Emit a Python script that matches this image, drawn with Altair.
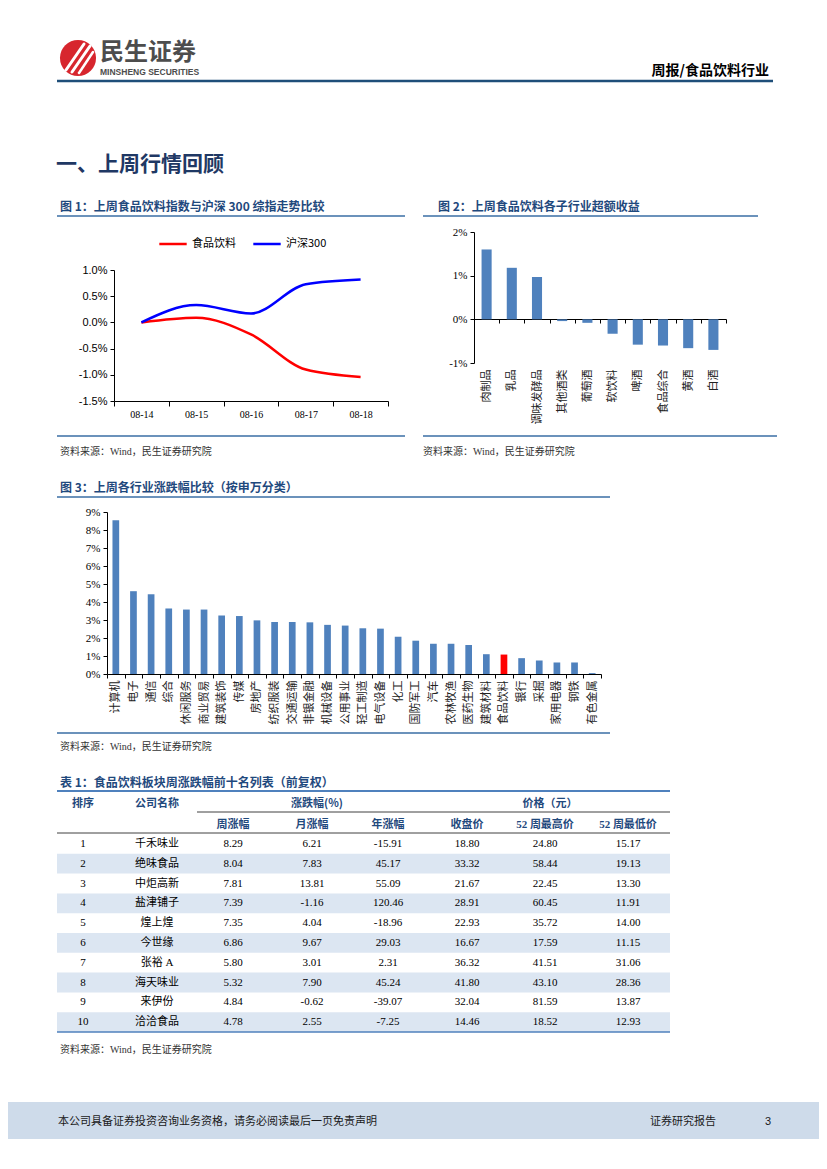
import altair as alt
import pandas as pd

# ---------------- data ----------------
dates = ["08-14", "08-15", "08-16", "08-17", "08-18"]
food_idx = [0.00, 0.09, -0.23, -0.90, -1.04]
hs300_idx = [0.00, 0.33, 0.17, 0.73, 0.82]
series_names = ["食品饮料", "沪深300"]

sub_inds = ["肉制品", "乳品", "调味发酵品", "其他酒类", "葡萄酒", "软饮料", "啤酒", "食品综合", "黄酒", "白酒"]
sub_excess = [1.60, 1.18, 0.97, -0.04, -0.08, -0.33, -0.58, -0.60, -0.66, -0.70]

inds = ["计算机", "电子", "通信", "综合", "休闲服务", "商业贸易", "建筑装饰", "传媒", "房地产", "纺织服装",
        "交通运输", "非银金融", "机械设备", "公用事业", "轻工制造", "电气设备", "化工", "国防军工", "汽车", "农林牧渔",
        "医药生物", "建筑材料", "食品饮料", "银行", "采掘", "家用电器", "钢铁", "有色金属"]
ind_chg = [8.54, 4.60, 4.43, 3.64, 3.58, 3.58, 3.25, 3.22, 2.98, 2.89,
           2.89, 2.87, 2.73, 2.69, 2.54, 2.52, 2.07, 1.85, 1.68, 1.68,
           1.61, 1.10, 1.08, 0.88, 0.75, 0.64, 0.64, 0.05]

ranks = list(range(1, 11))
names = ["千禾味业", "绝味食品", "中炬高新", "盐津铺子", "煌上煌", "今世缘", "张裕 A", "海天味业", "来伊份", "洽洽食品"]
wk_chg = [8.29, 8.04, 7.81, 7.39, 7.35, 6.86, 5.80, 5.32, 4.84, 4.78]
mo_chg = [6.21, 7.83, 13.81, -1.16, 4.04, 9.67, 3.01, 7.90, -0.62, 2.55]
yr_chg = [-15.91, 45.17, 55.09, 120.46, -18.96, 29.03, 2.31, 45.24, -39.07, -7.25]
close_px = [18.80, 33.32, 21.67, 28.91, 22.93, 16.67, 36.32, 41.80, 32.04, 14.46]
hi52 = [24.80, 58.44, 22.45, 60.45, 35.72, 17.59, 41.51, 43.10, 81.59, 18.52]
lo52 = [15.17, 19.13, 13.30, 11.91, 14.00, 11.15, 31.06, 28.36, 13.87, 12.93]

# ---------------- style ----------------
CJK = "Noto Sans CJK SC"
SERIF = "Liberation Serif, Noto Sans CJK SC"
SANS = "Liberation Sans, Noto Sans CJK SC"
NAVY = "#1F3864"
TBLUE = "#1F497D"
LBLUE = "#3A6EA5"
BAR = "#4F81BD"
W, H = 811, 1153
ONE = pd.DataFrame({"k": [0]})


def P(v):  # page pixel -> view pixel
    return v - 8


def txt(s, x, y, size, color="#000000", font=CJK, weight="normal", align="left"):
    return alt.Chart(ONE).mark_text(text=s, fontSize=size, color=color, font=font,
                                    fontWeight=weight, align=align, baseline="alphabetic").encode(
        x=alt.value(P(x)), y=alt.value(P(y)))


def hline(x1, x2, y, color, w=1.0):
    return alt.Chart(ONE).mark_rule(color=color, strokeWidth=w).encode(
        x=alt.value(P(x1)), x2=alt.value(P(x2)), y=alt.value(P(y)))


def seg(x1, y1, x2, y2, color, w):
    return alt.Chart(ONE).mark_rule(color=color, strokeWidth=w, strokeCap="round").encode(
        x=alt.value(P(x1)), x2=alt.value(P(x2)), y=alt.value(P(y1)), y2=alt.value(P(y2)))


def box(x1, y1, x2, y2, color):
    return alt.Chart(ONE).mark_rect(color=color).encode(
        x=alt.value(P(x1)), x2=alt.value(P(x2)), y=alt.value(P(y1)), y2=alt.value(P(y2)))


def pct_label(dec):
    return ("(datum.value < 0 ? '-' : '') + format(abs(datum.value), '.%df') + '%%'" % dec)


layers = []

# ---------------- header ----------------
layers.append(alt.Chart(ONE).mark_point(filled=True, shape="circle", size=1300, color="#D7262E", opacity=1).encode(
    x=alt.value(P(78)), y=alt.value(P(58))))
layers += [seg(66, 70, 84, 44, "white", 3), seg(72, 72, 90, 46, "white", 3), seg(79, 73, 93, 52, "white", 2.5)]
layers.append(txt("民生证券", 100, 60, 24, "#4D4D4D", CJK, "bold"))
layers.append(txt("MINSHENG SECURITIES", 100, 75, 8.5, "#4D4D4D", "Liberation Sans Narrow, Liberation Sans", "bold"))
layers.append(txt("周报/食品饮料行业", 769, 75, 14, "#000000", CJK, "bold", "right"))
layers.append(hline(57, 773, 81, "#1F4E79", 2.5))

layers.append(txt("一、上周行情回顾", 56, 171, 21, NAVY, CJK, "bold"))

# ---------------- figure titles & frames ----------------
layers.append(txt("图 1：上周食品饮料指数与沪深 300 综指走势比较", 60, 211, 12, TBLUE, CJK, "bold"))
layers.append(hline(57, 405, 216, LBLUE, 1.5))
layers.append(txt("图 2：上周食品饮料各子行业超额收益", 438, 211, 12, TBLUE, CJK, "bold"))
layers.append(hline(423, 758, 216, LBLUE, 1.5))
layers.append(hline(57, 405, 436, LBLUE, 1.5))
layers.append(hline(423, 777, 436, LBLUE, 1.5))
layers.append(txt("资料来源：Wind，民生证券研究院", 60, 455, 10, "#333333", SERIF))
layers.append(txt("资料来源：Wind，民生证券研究院", 423, 455, 10, "#333333", SERIF))

layers.append(txt("图 3：上周各行业涨跌幅比较（按申万分类）", 60, 492, 12, TBLUE, CJK, "bold"))
layers.append(hline(57, 610, 497, LBLUE, 1.5))
layers.append(hline(57, 610, 733, LBLUE, 1.5))
layers.append(txt("资料来源：Wind，民生证券研究院", 60, 750, 10, "#333333", SERIF))

# ---------------- figure 1: lines ----------------
df1 = pd.DataFrame({
    "date": dates * 2,
    "series": [series_names[0]] * len(dates) + [series_names[1]] * len(dates),
    "value": food_idx + hs300_idx,
})
fig1 = alt.Chart(df1).mark_line(strokeWidth=2.5, interpolate="monotone").encode(
    x=alt.X("date:N", bandPosition=0.5,
            scale=alt.Scale(type="band", domain=dates, range=[P(114), P(388)], paddingInner=0, paddingOuter=0),
            axis=alt.Axis(orient="bottom", offset=P(401) - H, title=None, tickBand="extent", tickSize=5,
                          labelAngle=0, labelFont="Liberation Serif", labelFontSize=10, labelPadding=3,
                          domainColor="#000000", tickColor="#000000", labelColor="#000000")),
    y=alt.Y("value:Q",
            scale=alt.Scale(domain=[-1.5, 1.0], range=[P(401), P(270)], nice=False, zero=False),
            axis=alt.Axis(orient="left", offset=-P(114), title=None, values=[-1.5, -1.0, -0.5, 0, 0.5, 1.0],
                          labelExpr=pct_label(1), labelFont="Liberation Sans", labelFontSize=11, tickSize=4,
                          labelPadding=3, domainColor="#000000", tickColor="#000000", labelColor="#000000")),
    color=alt.Color("series:N", scale=alt.Scale(domain=series_names, range=["#FF0000", "#0000FF"]),
                    legend=alt.Legend(orient="none", legendX=P(158), legendY=P(229), direction="horizontal",
                                      title=None, symbolType="stroke", symbolStrokeWidth=2.5, symbolSize=750,
                                      labelFont=CJK, labelFontSize=11, labelColor="#000000", columnPadding=12,
                                      padding=0, labelOffset=4)),
)
layers.append(fig1)

# ---------------- figure 2: bars ----------------
df2 = pd.DataFrame({"ind": sub_inds, "v": sub_excess})
fig2 = alt.Chart(df2).mark_bar(width=alt.RelativeBandSize(0.4), color=BAR).encode(
    x=alt.X("ind:N",
            scale=alt.Scale(type="band", domain=sub_inds, range=[P(474), P(726)], paddingInner=0, paddingOuter=0),
            axis=alt.Axis(orient="bottom", offset=P(319) - H, title=None, tickBand="extent", tickSize=4,
                          labelAngle=-90, labelFont=CJK, labelFontSize=11, labelPadding=46,
                          domainColor="#000000", tickColor="#000000", labelColor="#222222")),
    y=alt.Y("v:Q",
            scale=alt.Scale(domain=[-1, 2], range=[P(363), P(232)], nice=False, zero=False),
            axis=alt.Axis(orient="left", offset=-P(474), title=None, values=[-1, 0, 1, 2],
                          labelExpr=pct_label(0), labelFont="Liberation Serif", labelFontSize=11, tickSize=4,
                          labelPadding=3, domainColor="#000000", tickColor="#000000", labelColor="#000000")),
)
layers.append(fig2)

# ---------------- figure 3: bars ----------------
df3 = pd.DataFrame({"ind": inds, "v": ind_chg})
fig3 = alt.Chart(df3).mark_bar(width=alt.RelativeBandSize(0.38)).encode(
    x=alt.X("ind:N",
            scale=alt.Scale(type="band", domain=inds, range=[P(107), P(601)], paddingInner=0, paddingOuter=0),
            axis=alt.Axis(orient="bottom", offset=P(674) - H, title=None, tickBand="extent", tickSize=4,
                          labelAngle=-90, labelFont=CJK, labelFontSize=11, labelPadding=2,
                          domainColor="#000000", tickColor="#000000", labelColor="#222222")),
    y=alt.Y("v:Q",
            scale=alt.Scale(domain=[0, 9], range=[P(674), P(512)], nice=False, zero=False),
            axis=alt.Axis(orient="left", offset=-P(107), title=None, values=list(range(0, 10)),
                          labelExpr=pct_label(0), labelFont="Liberation Serif", labelFontSize=11, tickSize=4,
                          labelPadding=3, domainColor="#000000", tickColor="#000000", labelColor="#000000")),
    color=alt.condition(alt.datum.ind == "食品饮料", alt.value("#FF0000"), alt.value(BAR)),
)
layers.append(fig3)

# ---------------- table ----------------
layers.append(txt("表 1：食品饮料板块周涨跌幅前十名列表（前复权）", 60, 787, 12, TBLUE, CJK, "bold"))

row_scale = alt.Scale(type="band", domain=ranks, range=[P(834), P(1032)], paddingInner=0, paddingOuter=0)
df_rows = pd.DataFrame({"rank": ranks})
shade = alt.Chart(df_rows).transform_filter("datum.rank % 2 == 0").mark_rect(color="#DCE6F2").encode(
    y=alt.Y("rank:O", scale=row_scale, axis=None),
    x=alt.value(P(57)), x2=alt.value(P(670)),
)
layers.append(shade)

cells = []
for i in range(len(ranks)):
    vals = [str(ranks[i]), names[i]] + ["%.2f" % v for v in
                                        (wk_chg[i], mo_chg[i], yr_chg[i], close_px[i], hi52[i], lo52[i])]
    for ci, s in enumerate(vals):
        cells.append({"rank": ranks[i], "ci": ci, "txt": s})
df_cells = pd.DataFrame(cells)
col_centers = [83, 157, 233, 312, 388, 467, 545, 628]
tbl = alt.Chart(df_cells).mark_text(font=SERIF, fontSize=11, color="#000000", baseline="middle", align="center").encode(
    x=alt.X("ci:Q", scale=alt.Scale(domain=list(range(8)), range=[P(c) for c in col_centers], nice=False, zero=False),
            axis=None),
    y=alt.Y("rank:O", scale=row_scale, bandPosition=0.5, axis=None),
    text="txt:N",
)
layers.append(tbl)

layers.append(hline(57, 670, 791, BAR, 2))
layers.append(hline(197, 670, 812, "#404040", 1))
layers.append(hline(57, 670, 833, "#404040", 1))
layers.append(hline(57, 670, 1032, BAR, 1.5))

hdr1 = [("排序", 83), ("公司名称", 157), ("涨跌幅(%)", 317), ("价格（元）", 550)]
for s, x in hdr1:
    layers.append(txt(s, x, 807, 11, TBLUE, CJK, "bold", "center"))
hdr2 = [("周涨幅", 233), ("月涨幅", 312), ("年涨幅", 388), ("收盘价", 467), ("52 周最高价", 545), ("52 周最低价", 628)]
for s, x in hdr2:
    layers.append(txt(s, x, 828, 11, TBLUE, SERIF, "bold", "center"))

layers.append(txt("资料来源：Wind，民生证券研究院", 60, 1053, 10, "#333333", SERIF))

# ---------------- footer ----------------
layers.append(box(8, 1102, 819, 1139, "#CEDBEA"))
layers.append(txt("本公司具备证券投资咨询业务资格，请务必阅读最后一页免责声明", 58, 1125, 11, "#1A1A1A", CJK))
layers.append(txt("证券研究报告", 650, 1125, 11, "#1A1A1A", CJK))
layers.append(txt("3", 765, 1125, 11, "#1A1A1A", SANS))

chart = alt.layer(*layers).resolve_scale(
    x="independent", y="independent", color="independent"
).properties(
    width=W, height=H, padding=0, autosize=alt.AutoSizeParams(type="none"), background="white"
).configure_view(stroke=None).configure_axis(grid=False)

chart.save("out.html", embed_options={"renderer": "svg", "actions": False})
